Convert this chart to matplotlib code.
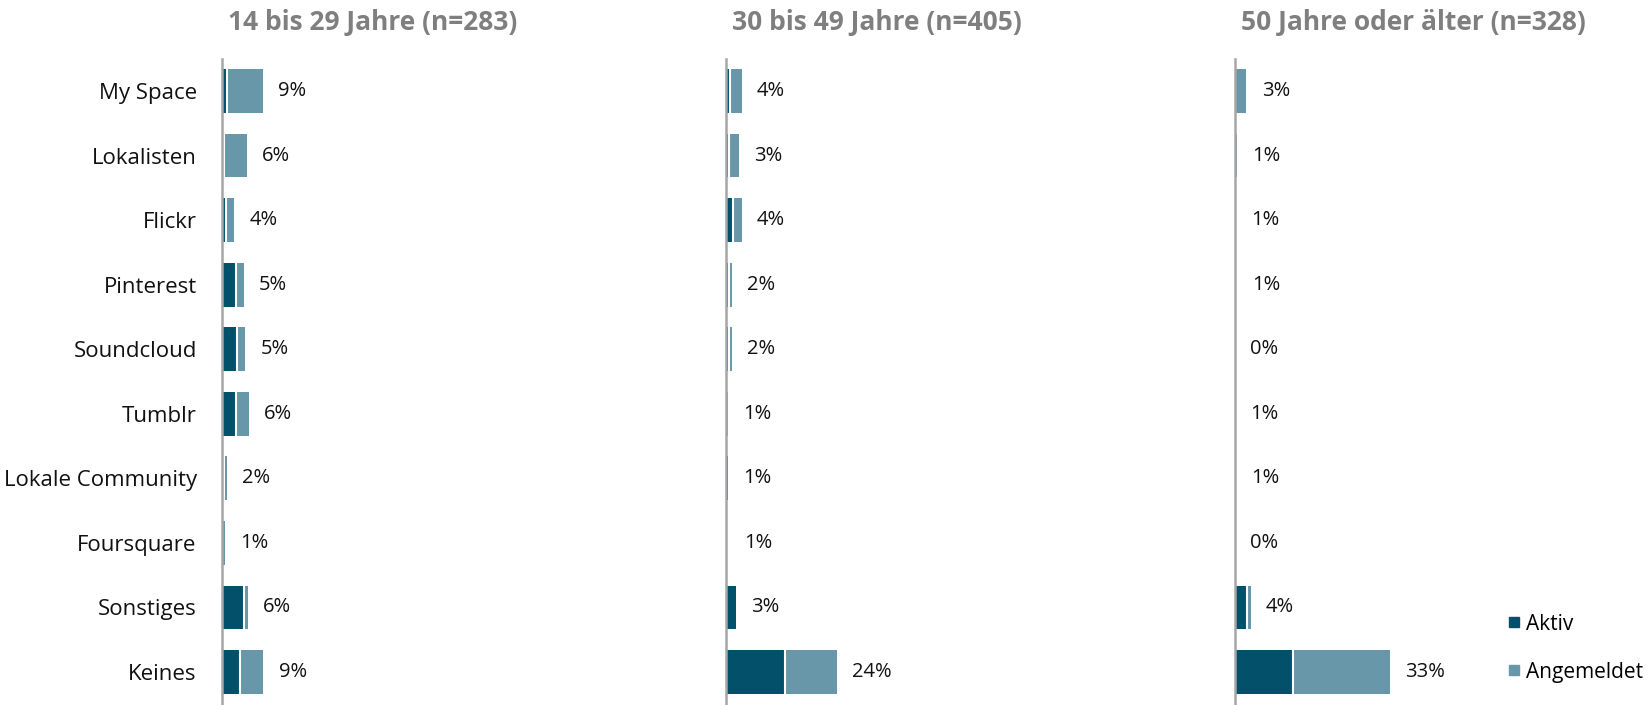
import matplotlib
matplotlib.use("Agg")
import matplotlib.pyplot as plt
from matplotlib.lines import Line2D

plt.rcParams['font.family'] = ['Open Sans', 'DejaVu Sans']

categories = ["My Space", "Lokalisten", "Flickr", "Pinterest", "Soundcloud", "Tumblr",
              "Lokale Community", "Foursquare", "Sonstiges", "Keines"]
titles = ["14 bis 29 Jahre (n=283)", "30 bis 49 Jahre (n=405)", "50 Jahre oder älter (n=328)"]

aktiv_14_29 = [1.2, 0.5, 0.9, 3.0, 3.3, 3.0, 0.5, 0.0, 4.7, 3.8]
angem_14_29 = [7.5, 4.8, 1.7, 1.7, 1.7, 2.8, 0.6, 0.6, 0.8, 5.0]
label_14_29 = ["9%", "6%", "4%", "5%", "5%", "6%", "2%", "1%", "6%", "9%"]

aktiv_30_49 = [0.9, 0.6, 1.4, 0.6, 0.6, 0.1, 0.5, 0.35, 2.1, 12.5]
angem_30_49 = [2.4, 2.1, 1.9, 0.7, 0.7, 0.3, 0.0, 0.35, 0.0, 11.0]
label_30_49 = ["4%", "3%", "4%", "2%", "2%", "1%", "1%", "1%", "3%", "24%"]

aktiv_50 = [0.0, 0.0, 0.0, 0.2, 0.0, 0.0, 0.0, 0.0, 2.5, 12.3]
angem_50 = [2.4, 0.5, 0.2, 0.2, 0.0, 0.0, 0.2, 0.0, 0.85, 20.5]
label_50 = ["3%", "1%", "1%", "1%", "0%", "1%", "1%", "0%", "4%", "33%"]

panels = [(aktiv_14_29, angem_14_29, label_14_29),
          (aktiv_30_49, angem_30_49, label_30_49),
          (aktiv_50, angem_50, label_50)]

dark = "#03506B"
light = "#6897A9"
gray_title = "#7F7F7F"
bar_h = 0.68

W, H = 1647, 705
fig = plt.figure(figsize=(W / 100, H / 100), dpi=100)
lefts = [221.7, 726, 1235]
axw = 472
top_px, bot_px = 58.7, 704.3

y = list(range(len(categories)))
for i, (a, g, labs) in enumerate(panels):
    ax = fig.add_axes([lefts[i] / W, (H - bot_px) / H, axw / W, (bot_px - top_px) / H])
    ax.barh(y, a, height=bar_h, color=dark, linewidth=0)
    ax.barh(y, g, left=a, height=bar_h, color=light, linewidth=0)
    # white separator between segments
    for yi, (av, gv) in enumerate(zip(a, g)):
        if av > 0 and gv > 0:
            ax.vlines(av, yi - bar_h / 2, yi + bar_h / 2, color="white", linewidth=1.5)
    for yi, (av, gv, lab) in enumerate(zip(a, g, labs)):
        ax.annotate(lab, xy=(av + gv, yi), xytext=(11, 0), textcoords="offset points",
                    va="center", ha="left", fontsize=14.5, color="#111111")
    ax.set_xlim(0, 100)
    ax.set_ylim(len(categories) - 0.5, -0.5)
    for s in ["top", "right", "bottom"]:
        ax.spines[s].set_visible(False)
    ax.spines["left"].set_color("#A6A6A6")
    ax.spines["left"].set_linewidth(1.8)
    ax.set_xticks([])
    ax.tick_params(axis="y", length=0, pad=18)
    ax.set_yticks(y)
    if i == 0:
        ax.set_yticklabels(categories, fontsize=16, color="#111111")
    else:
        ax.set_yticklabels([])
    fig.text((lefts[i] + 6) / W, 1 - 22 / H, titles[i], fontsize=19, fontweight="bold",
             color=gray_title, ha="left", va="center")

handles = [Line2D([], [], marker="s", linestyle="", color=dark, markersize=7),
           Line2D([], [], marker="s", linestyle="", color=light, markersize=7)]
fig.legend(handles, ["Aktiv", "Angemeldet"], loc="lower left",
           bbox_to_anchor=(1497 / W, 12 / H), frameon=False, fontsize=15,
           handlelength=0.6, handletextpad=0.3, labelspacing=1.3, borderpad=0)

fig.savefig("out.png", dpi=100)
